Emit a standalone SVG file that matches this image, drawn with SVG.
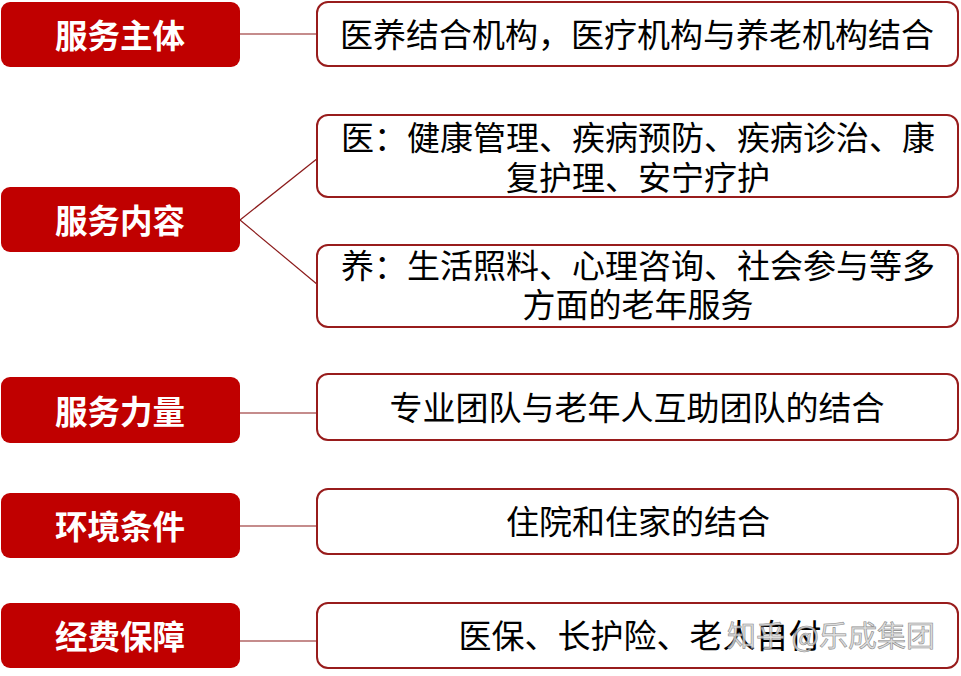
<svg xmlns="http://www.w3.org/2000/svg" width="961" height="676" viewBox="0 0 961 676">
<style>
.lb{fill:#c00000;}
.lt{fill:#ffffff;font-family:"Noto Sans CJK SC","Noto Sans",sans-serif;font-weight:bold;font-size:32.5px;text-anchor:middle;dominant-baseline:central;}
.rb{fill:#ffffff;stroke:#981c1c;stroke-width:2;}
.rt{fill:#000000;font-family:"Noto Sans CJK SC","Noto Sans",sans-serif;font-size:33px;text-anchor:middle;dominant-baseline:central;}
.cn{stroke:#8b1a1a;stroke-width:1.2;fill:none;}
.wm{font-family:"Noto Sans CJK SC","Noto Sans",sans-serif;font-size:29px;fill:#d8d8d8;stroke:#8a8a8a;stroke-width:0.6;fill-opacity:0.85;dominant-baseline:central;}
</style>
<rect width="961" height="676" fill="#ffffff"/>
<g id="connectors">
<line class="cn" x1="240" y1="34" x2="318" y2="34"/>
<line class="cn" x1="240" y1="220" x2="318" y2="158"/>
<line class="cn" x1="240" y1="220" x2="318" y2="285"/>
<line class="cn" x1="240" y1="413" x2="318" y2="413"/>
<line class="cn" x1="240" y1="526" x2="318" y2="526"/>
<line class="cn" x1="240" y1="641" x2="318" y2="641"/>
</g>
<g id="n1"><rect class="lb" x="1" y="2" width="239" height="65" rx="9"/><text class="lt" x="120" y="33">服务主体</text></g>
<g id="n2"><rect class="lb" x="1" y="187" width="239" height="65" rx="9"/><text class="lt" x="120" y="218">服务内容</text></g>
<g id="n3"><rect class="lb" x="1" y="377" width="239" height="66" rx="9"/><text class="lt" x="120" y="409">服务力量</text></g>
<g id="n4"><rect class="lb" x="1" y="493" width="239" height="65" rx="9"/><text class="lt" x="120" y="524">环境条件</text></g>
<g id="n5"><rect class="lb" x="1" y="603" width="239" height="65" rx="9"/><text class="lt" x="120" y="634">经费保障</text></g>
<g id="r1"><rect class="rb" x="317" y="2" width="641" height="64" rx="11"/><text class="rt" x="637" y="33">医养结合机构，医疗机构与养老机构结合</text></g>
<g id="r2a"><rect class="rb" x="317" y="115" width="641" height="82" rx="11"/><text class="rt" x="638" y="136">医：健康管理、疾病预防、疾病诊治、康</text><text class="rt" x="638" y="176">复护理、安宁疗护</text></g>
<g id="r2b"><rect class="rb" x="317" y="245" width="641" height="82" rx="11"/><text class="rt" x="638" y="264">养：生活照料、心理咨询、社会参与等多</text><text class="rt" x="638" y="303">方面的老年服务</text></g>
<g id="r3"><rect class="rb" x="317" y="374" width="641" height="66" rx="11"/><text class="rt" x="637" y="406">专业团队与老年人互助团队的结合</text></g>
<g id="r4"><rect class="rb" x="317" y="489" width="641" height="65" rx="11"/><text class="rt" x="638" y="520">住院和住家的结合</text></g>
<g id="r5"><rect class="rb" x="317" y="603" width="641" height="65" rx="11"/><text class="rt" x="640" y="634">医保、长护险、老人自付</text></g>
<text class="wm" x="727" y="634">知乎 @乐成集团</text>
</svg>
